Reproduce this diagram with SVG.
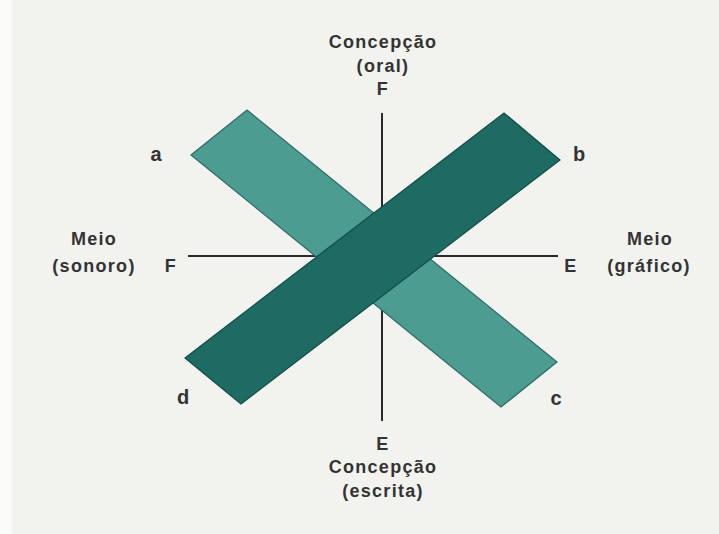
<svg xmlns="http://www.w3.org/2000/svg" width="719" height="534" viewBox="0 0 719 534">
<style>
.t{font-family:"Liberation Sans",Arial,sans-serif;font-weight:bold;font-size:18px;fill:#333333;letter-spacing:1.3px;text-anchor:middle}
.k{font-size:20px;letter-spacing:0}
.ax{stroke:#2a2a2a;stroke-width:2;fill:none}
.light{fill:#4c9c92;stroke:#2c6b64;stroke-width:1.2}
.dark{fill:#1d6b63;stroke:#144c46;stroke-width:1.2}
</style>
<rect x="0" y="0" width="719" height="534" fill="#f2f3ee"/>
<rect x="0" y="0" width="12" height="534" fill="#fbfbf9"/>
<g id="connectors">
<line class="ax" x1="382" y1="113" x2="382" y2="421"/>
<line class="ax" x1="188" y1="256" x2="558" y2="256"/>
</g>
<g id="band-ac">
<polygon class="light" points="191,155 247,110 557,362 501,407"/>
</g>
<g id="band-db">
<polygon class="dark" points="185,358 504,113 560,160 241,404"/>
</g>
<g id="label-top">
<text class="t" x="383" y="48">Concepção</text>
<text class="t" x="383" y="72">(oral)</text>
<text class="t" x="383" y="95">F</text>
</g>
<g id="label-bottom">
<text class="t" x="383" y="450">E</text>
<text class="t" x="383" y="473">Concepção</text>
<text class="t" x="383" y="497">(escrita)</text>
</g>
<g id="label-left">
<text class="t" x="94" y="245">Meio</text>
<text class="t" x="94" y="272">(sonoro)</text>
<text class="t" x="171" y="272">F</text>
</g>
<g id="label-right">
<text class="t" x="650" y="245">Meio</text>
<text class="t" x="649" y="272">(gráfico)</text>
<text class="t" x="571" y="272">E</text>
</g>
<g id="label-a"><text class="t k" x="156" y="161">a</text></g>
<g id="label-b"><text class="t k" x="579" y="161">b</text></g>
<g id="label-c"><text class="t k" x="556" y="405">c</text></g>
<g id="label-d"><text class="t k" x="183" y="404">d</text></g>
</svg>
